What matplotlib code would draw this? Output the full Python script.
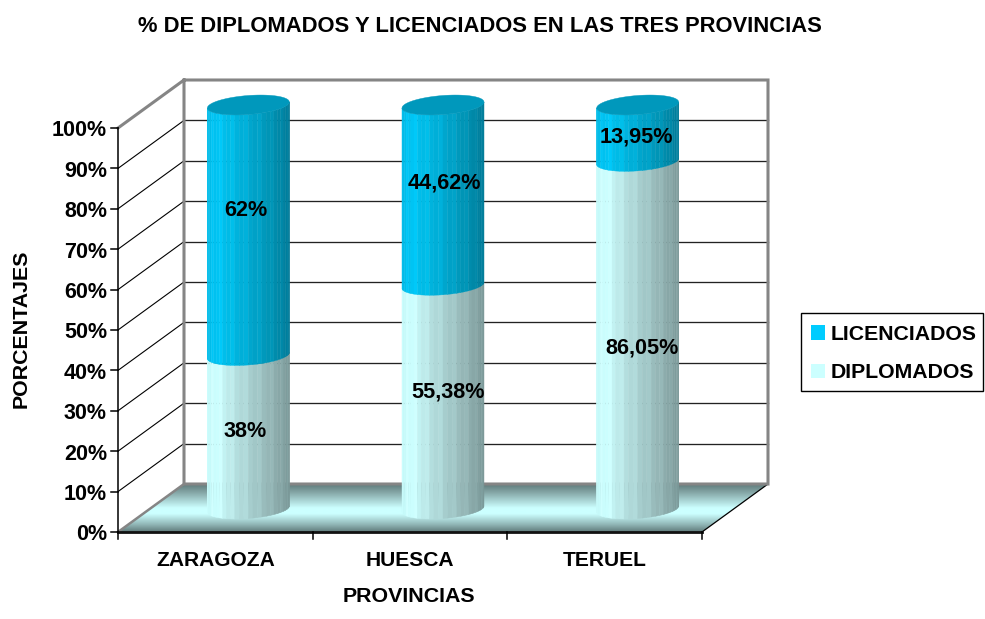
import numpy as np
import matplotlib
matplotlib.use("Agg")
import matplotlib.pyplot as plt
from matplotlib.patches import Polygon, Patch, Rectangle
from matplotlib.colors import LinearSegmentedColormap

plt.rcParams['font.family'] = ['Liberation Sans', 'DejaVu Sans']

categories = ['ZARAGOZA', 'HUESCA', 'TERUEL']
diplomados = [38, 55.38, 86.05]
licenciados = [62, 44.62, 13.95]
dip_labels = ['38%', '55,38%', '86,05%']
lic_labels = ['62%', '44,62%', '13,95%']
yticks = list(range(0, 101, 10))

W, H = 985, 619
fig = plt.figure(figsize=(W / 100, H / 100), dpi=100)
L, R, T, B = 118, 702, 128, 532
ax = fig.add_axes([L / W, 1 - B / H, (R - L) / W, (B - T) / H])
ax.set_axis_off()

ux = 3 / (R - L)          # data units per pixel
uy = 100 / (B - T)
DX, DY = 66 * ux, 48 * uy  # depth of the box
GRAY = '#858585'

# floor
floor = Polygon([(0, 0), (DX, DY), (3 + DX, DY), (3, 0)], closed=True,
                facecolor='none', edgecolor='none', zorder=1)
ax.add_patch(floor)
fcmap = LinearSegmentedColormap.from_list(
    'floor', [(0, '#5f7a7a'), (0.18, '#86a8a8'), (0.5, '#ccffff'), (0.62, '#ccffff'),
              (0.85, '#8fb4b4'), (1, '#5f7a7a')])
im = ax.imshow(np.linspace(0, 1, 256)[:, None], cmap=fcmap, aspect='auto',
               extent=(0, 3 + DX, 0, DY), origin='upper', zorder=1)
im.set_clip_path(floor)
im.set_clip_box(fig.bbox)
ax.plot([0, DX], [0, DY], color=GRAY, lw=1.8, zorder=2, clip_on=False)
ax.plot([3, 3 + DX], [0, DY], color='black', lw=0.9, zorder=2, clip_on=False)

# gridlines on the walls
for v in yticks[1:-1]:
    ax.plot([DX, 3 + DX], [v + DY, v + DY], color='#222222', lw=0.95, zorder=2, clip_on=False)
    ax.plot([0, DX], [v, v + DY], color='black', lw=0.8, zorder=2, clip_on=False)
# outer frame of walls
ax.plot([0, DX, 3 + DX, 3 + DX, DX, DX],
        [100, 100 + DY, 100 + DY, DY, DY, 100 + DY],
        color=GRAY, lw=2.2, zorder=3, clip_on=False, solid_joinstyle='miter')

# cylinders
A = 41 * ux
Bb = 9.5 * uy
K = 3 * uy
cx_off = DX / 2
cy_off = DY / 2 - 1 * uy
N = 28


def edge(c, y0, t):
    return c + A * np.cos(t), y0 + Bb * np.sin(t) + K * np.cos(t)


shade_pos = [0, 0.12, 0.3, 0.5, 0.8, 1]
shade_blue = ['#00b8e4', '#00c4f4', '#00b8e2', '#00a8d0', '#0090b0', '#007a98']
shade_lite = ['#c4f8f8', '#ccffff', '#b8e4e4', '#a8d0d0', '#90b0b0', '#7a9898']
cm_blue = LinearSegmentedColormap.from_list('b', list(zip(shade_pos, shade_blue)))
cm_lite = LinearSegmentedColormap.from_list('l', list(zip(shade_pos, shade_lite)))


def cylinder(c, y0, y1, cmap, z):
    ts = np.linspace(np.pi, 2 * np.pi, N + 1)
    for i in range(N):
        tt = np.linspace(ts[i], ts[i + 1], 5)
        x, yb = edge(c, y0, tt)
        _, yt = edge(c, y1, tt)
        xm = (x.mean() - (c - A)) / (2 * A)
        col = cmap(xm)
        if i % 3 == 1:
            col = tuple(min(1, v * 1.04) for v in col[:3])
        ax.fill(np.r_[x, x[::-1]], np.r_[yb, yt[::-1]], facecolor=col, edgecolor=col,
                lw=0.3, zorder=z, clip_on=False)


for i, (d, l) in enumerate(zip(diplomados, licenciados)):
    c = i + 0.5 + cx_off
    cylinder(c, cy_off, cy_off + d, cm_lite, 4)
    cylinder(c, cy_off + d, cy_off + d + l, cm_blue, 5)
    t = np.linspace(0, 2 * np.pi, 80)
    x, y = edge(c, cy_off + d + l, t)
    ax.fill(x, y, facecolor='#0098bc', edgecolor='#0098bc', lw=0.3, zorder=6, clip_on=False)

# data labels (vertical position follows the value, with the source chart's nudges)
lic_nudge = [(-2, 14), (1, 8.5), (-1, -2.5)]
dip_nudge = [(-2.5, 0.5), (3.6, 3.8), (3, -9.5)]
lab = dict(ha='center', va='center', fontsize=15.6, fontweight='bold', zorder=8,
           textcoords='offset points', annotation_clip=False)
for i, (d, l) in enumerate(zip(diplomados, licenciados)):
    c = i + 0.5 + cx_off
    ax.annotate(dip_labels[i], (c, cy_off + d / 2), xytext=dip_nudge[i], **lab)
    ax.annotate(lic_labels[i], (c, cy_off + d + l / 2), xytext=lic_nudge[i], **lab)

# axes
ax.plot([0, 0], [0, 100], color='black', lw=1.1, zorder=7, clip_on=False)
ax.plot([0, 3], [0, 0], color='#111111', lw=2, zorder=7, clip_on=False)
for v in yticks:
    ax.plot([-7 * ux, 0], [v, v], color='black', lw=1.1, zorder=7, clip_on=False)
    ax.text(-11 * ux, v - 3 * uy, f'{v}%', ha='right', va='center', fontsize=15.5, fontweight='bold')
for i in range(4):
    ax.plot([i, i], [0, -7 * uy], color='black', lw=1.1, zorder=7, clip_on=False)
for i, name in enumerate(categories):
    ax.text(i + 0.5, -29 * uy, name, ha='center', va='center', fontsize=15.1, fontweight='bold')

ax.set_xlim(0, 3)
ax.set_ylim(0, 100)

fig.text(480 / W, 1 - 26 / H, '% DE DIPLOMADOS Y LICENCIADOS EN LAS TRES PROVINCIAS',
         ha='center', va='center', fontsize=15.8, fontweight='bold')
fig.text(409 / W, 1 - 597 / H, 'PROVINCIAS', ha='center', va='center', fontsize=15.4, fontweight='bold')
fig.text(21 / W, 1 - 329 / H, 'PORCENTAJES', rotation=90, ha='center', va='center',
         fontsize=15.4, fontweight='bold')

fig.add_artist(Rectangle((801 / W, 1 - 391 / H), 182 / W, 78 / H, transform=fig.transFigure,
                         facecolor='white', edgecolor='black', lw=1.0))
handles = [Patch(facecolor='#00ccff', label='LICENCIADOS'), Patch(facecolor='#ccffff', label='DIPLOMADOS')]
leg = fig.legend(handles=handles, loc='upper left', bbox_to_anchor=(811 / W, 1 - 325 / H),
                 borderaxespad=0, frameon=False, borderpad=0,
                 prop={'size': 15.35, 'weight': 'bold'}, handlelength=0.66, handleheight=0.66,
                 handletextpad=0.24, labelspacing=0.9)

fig.savefig('out.png', dpi=100)
